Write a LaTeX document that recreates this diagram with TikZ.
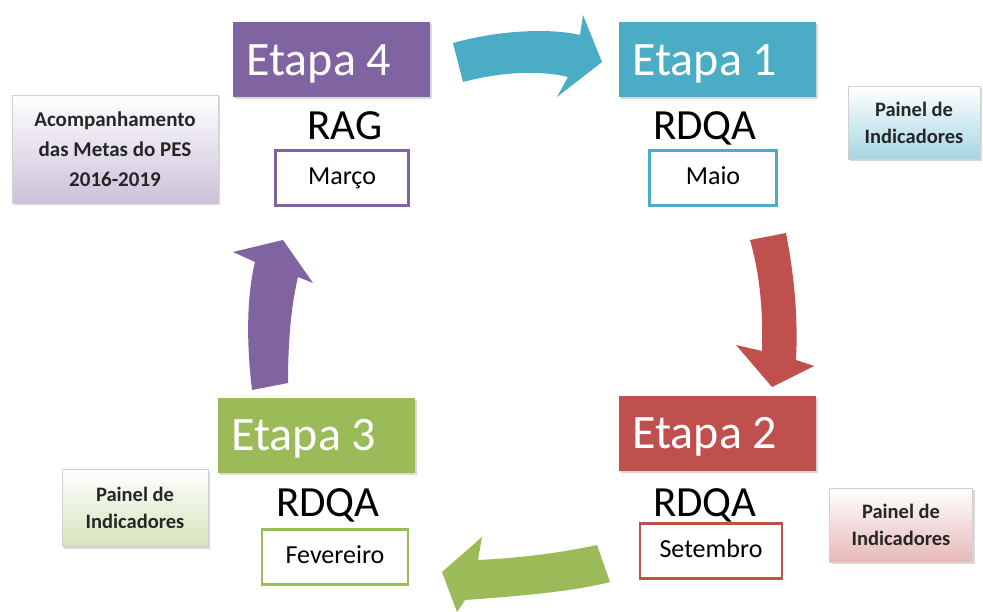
\documentclass[tikz,border=0pt]{standalone}
\usepackage{fontspec}
\setmainfont{Carlito}
\usetikzlibrary{positioning,shadows}

\definecolor{stagePurple}{HTML}{8064A2}
\definecolor{stageTeal}{HTML}{4BACC6}
\definecolor{stageRed}{HTML}{C0504D}
\definecolor{stageGreen}{HTML}{9BBB59}

\begin{document}
\begin{tikzpicture}[
  x=1pt, y=-1pt,
  node distance=10pt,
  etapa/.style={fill=#1, text=white, font=\fontsize{48}{50}\selectfont,
                minimum height=75pt, text width=169pt, inner xsep=14pt,
                align=flush left, text height=31pt, text depth=0pt,
                drop shadow={opacity=0.3, shadow xshift=2pt, shadow yshift=-2pt}},
  report/.style={font=\fontsize{43}{46}\selectfont, inner sep=0pt,
                 text height=27pt, text depth=0pt},
  month/.style={draw=#1, line width=2.5pt, fill=white, minimum height=55pt,
                font=\fontsize{26}{28}\selectfont, text height=17pt, text depth=4pt},
  painel/.style={draw=black!18, top color=white, bottom color=#1,
                 align=center, text=black!85,
                 font=\bfseries\fontsize{20.5}{27}\selectfont,
                 drop shadow={opacity=0.3, shadow xshift=2pt, shadow yshift=-2pt}},
  blockarrow/.style={fill=#1, draw=none}
]
  \useasboundingbox (0,0) rectangle (983,612);

  % the four stages
  \node[etapa=stagePurple] (e4) at (331,60) {Etapa 4};
  \node[etapa=stageTeal]   (e1) at (717,60) {Etapa 1};
  \node[etapa=stageGreen]  (e3) at (316,435) {Etapa 3};
  \node[etapa=stageRed]    (e2) at (717,433) {Etapa 2};

  % reports
  \node[report, below=15pt of e4, xshift=14pt]  (rag)   {RAG};
  \node[report, below=15pt of e1, xshift=-12pt] (rdqa1) {RDQA};
  \node[report, below=17pt of e3, xshift=12pt]  (rdqa3) {RDQA};
  \node[report, below=19pt of e2, xshift=-12pt] (rdqa2) {RDQA};

  % months
  \node[month=stagePurple, minimum width=133pt, below=9pt of rag, xshift=-3pt]  (marco) {Março};
  \node[month=stageTeal,   minimum width=127pt, below=9pt of rdqa1, xshift=8pt] (maio)  {Maio};
  \node[month=stageGreen,  minimum width=146pt, below=11pt of rdqa3, xshift=7pt] (fev)  {Fevereiro};
  \node[month=stageRed,    minimum width=142pt, below=5pt of rdqa2, xshift=6pt]  (set)  {Setembro};

  % side panels
  \node[painel=stagePurple!40, minimum width=206pt, minimum height=108pt,
        font=\bfseries\fontsize{21}{30}\selectfont] (metas) at (115,149)
        {Acompanhamento\\das Metas do PES\\2016-2019};
  \node[painel=stageTeal!50,  minimum width=132pt, minimum height=73pt] (pain1) at (914,123) {Painel de\\Indicadores};
  \node[painel=stageRed!40,   minimum width=143pt, minimum height=74pt] (pain2) at (901,525) {Painel de\\Indicadores};
  \node[painel=stageGreen!40, minimum width=146pt, minimum height=77pt] (pain3) at (135,508) {Painel de\\Indicadores};

  % curved block arrows
  \fill[blockarrow=stageTeal] (453,43) .. controls (500,30) and (550,28) .. (580,35)
    -- (583,15) -- (602,62) -- (557,97) -- (568,77)
    .. controls (540,70) and (500,72) .. (463,82) -- cycle;
  \fill[blockarrow=stageRed] (750,240) -- (786,233)
    .. controls (795,280) and (798,320) .. (796,360)
    -- (814,366) -- (772,387) -- (736,345) -- (762,351)
    .. controls (763,310) and (760,275) .. (750,240) -- cycle;
  \fill[blockarrow=stageGreen] (597,545) .. controls (560,553) and (520,558) .. (478,560)
    -- (482,537) -- (442,572) -- (457,612) -- (465,600)
    .. controls (520,596) and (570,592) .. (610,582) -- cycle;
  \fill[blockarrow=stagePurple] (252,390) .. controls (246,340) and (247,295) .. (255,262)
    -- (233,252) -- (283,240) -- (313,283) -- (298,277)
    .. controls (290,310) and (288,350) .. (288,383) -- cycle;
\end{tikzpicture}
\end{document}
